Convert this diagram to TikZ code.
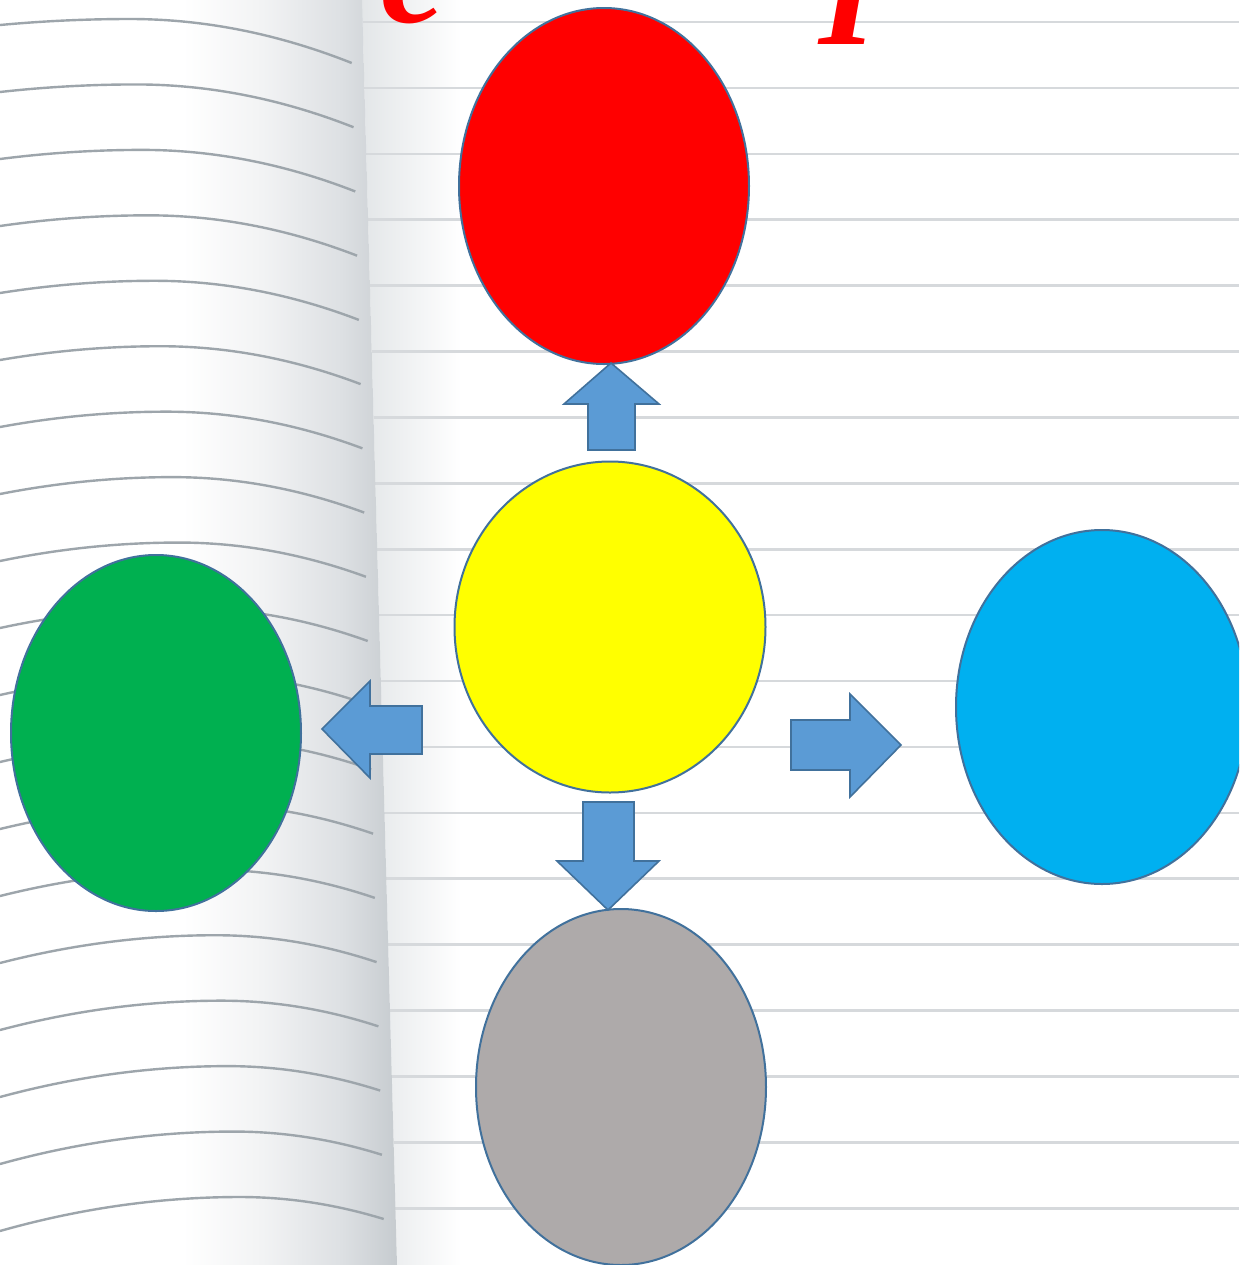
\documentclass[tikz,border=0pt]{standalone}
\usepackage{fontspec}
\setmainfont{Liberation Serif}
\usetikzlibrary{shapes.geometric}
\definecolor{ol}{HTML}{41719C}
\definecolor{arrowfill}{HTML}{5B9BD5}
\definecolor{cred}{HTML}{FF0000}
\definecolor{cyellow}{HTML}{FFFF00}
\definecolor{cgreen}{HTML}{00B050}
\definecolor{cblue}{HTML}{00B0F0}
\definecolor{cgray}{HTML}{AEAAAA}
\definecolor{lp1}{HTML}{F2F3F4}
\definecolor{lp2}{HTML}{DDE0E3}
\definecolor{lp3}{HTML}{C6CBCF}
\definecolor{rp}{HTML}{E3E6E8}
\definecolor{lline}{HTML}{9DA5AB}
\definecolor{rline}{HTML}{D6D9DC}
\pgfdeclarehorizontalshading{leftpage}{100bp}{color(0bp)=(white); color(25bp)=(white); color(48bp)=(white); color(58bp)=(lp1); color(68bp)=(lp2); color(75bp)=(lp3); color(100bp)=(lp3)}
\pgfdeclarehorizontalshading{rightpage}{100bp}{color(0bp)=(rp); color(25bp)=(rp); color(50bp)=(white); color(100bp)=(white)}
\begin{document}
\begin{tikzpicture}[x=0.5pt,y=-0.5pt,
  bubble/.style={ellipse, draw=ol, line width=1pt, inner sep=0pt},
  blockarrow/.style={fill=arrowfill, draw=ol, line width=0.8pt, line join=miter},
  leftline/.style={draw=lline, line width=1.2pt},
  rightline/.style={draw=rline, line width=1.3pt},
  redtext/.style={text=cred, font=\fontsize{74}{80}\selectfont\bfseries\itshape, inner sep=0pt, anchor=base}]
\useasboundingbox (0,0) rectangle (1239,1265);
\begin{scope}
\clip (0,0) rectangle (1239,1265);
\fill[white] (0,0) rectangle (1239,1265);
% right page
\shade[shading=rightpage] (362,0) -- (560,0) -- (560,1265) -- (397,1265) -- cycle;
\foreach \k in {0,...,18}{
  \pgfmathsetmacro{\yy}{22+65.9*\k}
  \pgfmathsetmacro{\sx}{362+0.02767*\yy}
  \draw[rightline] (\sx,\yy) -- (1239,\yy);
}
% left page
\shade[shading=leftpage] (0,0) -- (362,0) -- (397,1265) -- (0,1265) -- cycle;
\foreach \k in {0,...,18}{
  \pgfmathsetmacro{\t}{\k/18}
  \pgfmathsetmacro{\yo}{25+67*\k}
  \pgfmathsetmacro{\px}{130+110*\t}
  \pgfmathsetmacro{\pk}{-6-28*\t}
  \pgfmathsetmacro{\ey}{38-50*\t}
  \pgfmathsetmacro{\ex}{362+0.02767*(\yo+\ey)-12}
  \draw[leftline] (0,\yo) .. controls ({\px/3},{\yo+2*\pk/3}) and ({2*\px/3},{\yo+\pk}) .. (\px,{\yo+\pk})
     .. controls ({\px+(\ex-\px)/3},{\yo+\pk}) and ({\ex-(\ex-\px)/3},{\yo+\ey+2*(\pk-\ey)/3}) .. (\ex,{\yo+\ey});
}
% partial title letters (cut by the top edge, as in the reference)
\node[redtext] (tc) at (414,22) {c};
\node[redtext] (ti) at (848,44) {I};
% bubbles
\node[bubble, fill=cred, minimum width=145pt, minimum height=178pt] (top) at (604,186) {};
\node[bubble, fill=cyellow, minimum width=155.5pt, minimum height=165.5pt] (center) at (610,627) {};
\node[bubble, fill=cgreen, minimum width=145pt, minimum height=178pt] (left) at (156,733) {};
\node[bubble, fill=cblue, minimum width=146pt, minimum height=177pt] (right) at (1102,707) {};
\node[bubble, fill=cgray, minimum width=145pt, minimum height=178pt] (bottom) at (621,1087) {};
% block arrows
\draw[blockarrow] (611,363) -- (659,404) -- (635,404) -- (635,450) -- (588,450) -- (588,404) -- (564,404) -- cycle;
\draw[blockarrow] (322,729) -- (370,681) -- (370,706) -- (422,706) -- (422,754) -- (370,754) -- (370,778) -- cycle;
\draw[blockarrow] (901,745) -- (850,694) -- (850,720) -- (791,720) -- (791,770) -- (850,770) -- (850,797) -- cycle;
\draw[blockarrow] (608,910) -- (659,861) -- (634,861) -- (634,802) -- (583,802) -- (583,861) -- (557,861) -- cycle;
\end{scope}
\end{tikzpicture}
\end{document}
